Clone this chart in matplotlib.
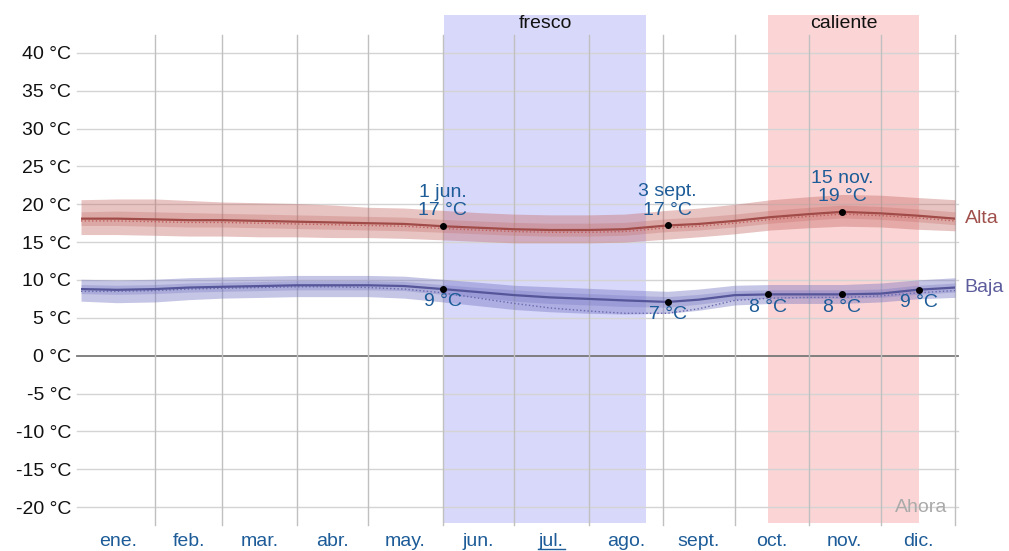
import matplotlib.pyplot as plt
import numpy as np

plt.rcParams['font.family'] = ['Liberation Sans', 'DejaVu Sans']

# --- data (day of year, °C) ---
days = [0, 15, 31, 45, 59, 75, 90, 105, 120, 135, 151, 166, 181, 196, 212, 227, 245, 258, 273, 288, 304, 318, 334, 349, 365]

high_mean = [18.1, 18.1, 18.0, 17.9, 17.9, 17.8, 17.7, 17.6, 17.5, 17.4, 17.1, 16.9, 16.7, 16.6, 16.6, 16.7, 17.2, 17.4, 17.8, 18.3, 18.7, 19.0, 18.8, 18.5, 18.1]
high_dot = [17.8, 17.8, 17.7, 17.6, 17.6, 17.5, 17.4, 17.3, 17.2, 17.1, 16.8, 16.6, 16.4, 16.3, 16.3, 16.4, 16.9, 17.1, 17.5, 18.0, 18.4, 18.7, 18.5, 18.2, 17.8]
high_p10 = [16.0, 16.0, 15.9, 15.8, 15.8, 15.7, 15.7, 15.6, 15.6, 15.5, 15.3, 15.1, 14.9, 14.9, 14.9, 15.0, 15.4, 15.7, 16.1, 16.6, 16.9, 17.1, 17.0, 16.7, 16.5]
high_p25 = [17.2, 17.2, 17.1, 17.0, 17.0, 16.9, 16.8, 16.7, 16.6, 16.5, 16.3, 16.1, 15.9, 15.8, 15.8, 15.9, 16.4, 16.6, 17.0, 17.5, 17.9, 18.2, 18.0, 17.7, 17.3]
high_p75 = [19.0, 19.1, 19.0, 18.9, 18.8, 18.7, 18.6, 18.5, 18.4, 18.3, 18.0, 17.8, 17.6, 17.5, 17.5, 17.6, 18.1, 18.3, 18.7, 19.2, 19.6, 19.9, 19.7, 19.4, 19.0]
high_p90 = [20.6, 20.7, 20.7, 20.5, 20.3, 20.2, 20.1, 19.9, 19.6, 19.5, 19.2, 18.9, 18.7, 18.6, 18.6, 18.7, 19.2, 19.5, 20.0, 20.6, 21.0, 21.3, 21.2, 20.9, 20.6]

low_mean = [8.8, 8.7, 8.8, 9.0, 9.1, 9.2, 9.3, 9.3, 9.3, 9.2, 8.8, 8.4, 8.0, 7.7, 7.5, 7.3, 7.1, 7.4, 8.0, 8.1, 8.1, 8.1, 8.2, 8.7, 9.0]
low_dot = [8.5, 8.5, 8.6, 8.8, 8.9, 9.0, 9.1, 9.1, 9.0, 8.8, 8.3, 7.6, 6.9, 6.3, 5.9, 5.6, 5.6, 6.2, 7.3, 7.6, 7.7, 7.7, 7.9, 8.3, 8.6]
low_p10 = [7.2, 7.0, 7.1, 7.4, 7.6, 7.7, 7.8, 7.8, 7.8, 7.6, 7.1, 6.6, 6.1, 5.8, 5.6, 5.5, 5.6, 6.0, 6.7, 6.9, 6.9, 6.9, 7.1, 7.5, 7.7]
low_p25 = [8.2, 8.1, 8.2, 8.4, 8.5, 8.6, 8.7, 8.7, 8.7, 8.6, 8.1, 7.7, 7.2, 6.9, 6.7, 6.5, 6.4, 6.8, 7.4, 7.6, 7.6, 7.6, 7.7, 8.1, 8.4]
low_p75 = [9.4, 9.3, 9.4, 9.6, 9.7, 9.8, 9.9, 9.9, 9.9, 9.8, 9.4, 9.0, 8.7, 8.4, 8.2, 8.0, 7.8, 8.1, 8.6, 8.7, 8.7, 8.7, 8.8, 9.3, 9.6]
low_p90 = [10.1, 10.0, 10.1, 10.3, 10.4, 10.5, 10.6, 10.6, 10.6, 10.5, 10.1, 9.7, 9.3, 9.1, 8.9, 8.7, 8.5, 8.8, 9.3, 9.4, 9.4, 9.4, 9.6, 10.0, 10.3]

month_starts = [0, 31, 59, 90, 120, 151, 181, 212, 243, 273, 304, 334, 365]
month_labels = ['ene.', 'feb.', 'mar.', 'abr.', 'may.', 'jun.', 'jul.', 'ago.', 'sept.', 'oct.', 'nov.', 'dic.']
y_ticks = [40, 35, 30, 25, 20, 15, 10, 5, 0, -5, -10, -15, -20]

seasons = [('fresco', 151.5, 236, '#d8d8fa'), ('caliente', 287, 350, '#fbd5d5')]

high_marks = [(151, 17.1, '1 jun.\n17 °C'), (245, 17.2, '3 sept.\n17 °C'), (318, 19.0, '15 nov.\n19 °C')]
low_marks = [(151, 8.8, '9 °C'), (245, 7.1, '7 °C'), (287, 8.1, '8 °C'), (318, 8.1, '8 °C'), (350, 8.7, '9 °C')]

txt_blue = '#1d5c98'
fs = 14

fig = plt.figure(figsize=(10.09, 5.51), dpi=100)
ax = fig.add_axes([81 / 1009, 28 / 551, 874 / 1009, 508 / 551])
ax.set_xlim(0, 365)
ax.set_ylim(-22.1, 45.0)
for s in ax.spines.values():
    s.set_visible(False)

# season bands
for name, a, b, col in seasons:
    ax.axvspan(a, b, color=col, zorder=0, lw=0)
    ax.text((a + b) / 2, 43.3, name, ha='center', va='baseline', fontsize=fs, color='#111111')

# grid
for t in y_ticks:
    ax.plot([-1.7, 366.3], [t, t], color='#777777' if t == 0 else '#d4d4d4',
            lw=1.3 if t == 0 else 1.0, zorder=1, clip_on=False)
for d in month_starts[1:]:
    ax.plot([d, d], [-22.4, 42.4], color='#c0c0c0', lw=1.0, zorder=1, clip_on=False)

# high series
ax.fill_between(days, high_p10, high_p90, color='#c46a66', alpha=0.4, lw=0, zorder=2)
ax.fill_between(days, high_p25, high_p75, color='#c46a66', alpha=0.3, lw=0, zorder=2)
ax.plot(days, high_dot, ':', color='#c0605c', lw=1.0, zorder=3)
ax.plot(days, high_mean, color='#a04b48', lw=1.6, zorder=3)

# low series
ax.fill_between(days, low_p10, low_p90, color='#7070c0', alpha=0.4, lw=0, zorder=2)
ax.fill_between(days, low_p25, low_p75, color='#7070c0', alpha=0.3, lw=0, zorder=2)
ax.plot(days, low_dot, ':', color='#6a6ab0', lw=1.0, zorder=3)
ax.plot(days, low_mean, color='#55559a', lw=1.6, zorder=3)

# marked points
for d, v, lab in high_marks:
    ax.plot(d, v, 'o', color='black', ms=4, zorder=5)
    ax.annotate(lab, (d, v), xytext=(0, 5), textcoords='offset points', ha='center', va='bottom',
                fontsize=fs, color=txt_blue, linespacing=1.1, zorder=6)
for d, v, lab in low_marks:
    ax.plot(d, v, 'o', color='black', ms=4, zorder=5)
    ax.annotate(lab, (d, v), xytext=(0, -3), textcoords='offset points', ha='center', va='top',
                fontsize=fs, color=txt_blue, zorder=6)

ax.text(369, high_mean[-1], 'Alta', ha='left', va='center', fontsize=fs, color='#a0504c', clip_on=False)
ax.text(369, low_mean[-1], 'Baja', ha='left', va='center', fontsize=fs, color='#5d5d9e', clip_on=False)
ax.text(362, -20, 'Ahora', ha='right', va='center', fontsize=fs, color='#aaaaaa', zorder=6)

# axes ticks
ax.set_yticks(y_ticks)
ax.set_yticklabels([f'{t} °C' for t in y_ticks], fontsize=fs, color='#111111')
mids = [(a + b) / 2 for a, b in zip(month_starts[:-1], month_starts[1:])]
ax.set_xticks(mids)
ax.set_xticklabels(month_labels, fontsize=fs, color=txt_blue)
ax.tick_params(axis='both', length=0)
ax.tick_params(axis='y', pad=7)
ax.tick_params(axis='x', pad=7)

# current month underline
jul_mid = mids[6]
ax.plot([jul_mid - 5.5, jul_mid + 5.5], [-25.6, -25.6], color=txt_blue, lw=1.0, clip_on=False)

fig.savefig('out.png', dpi=100)
